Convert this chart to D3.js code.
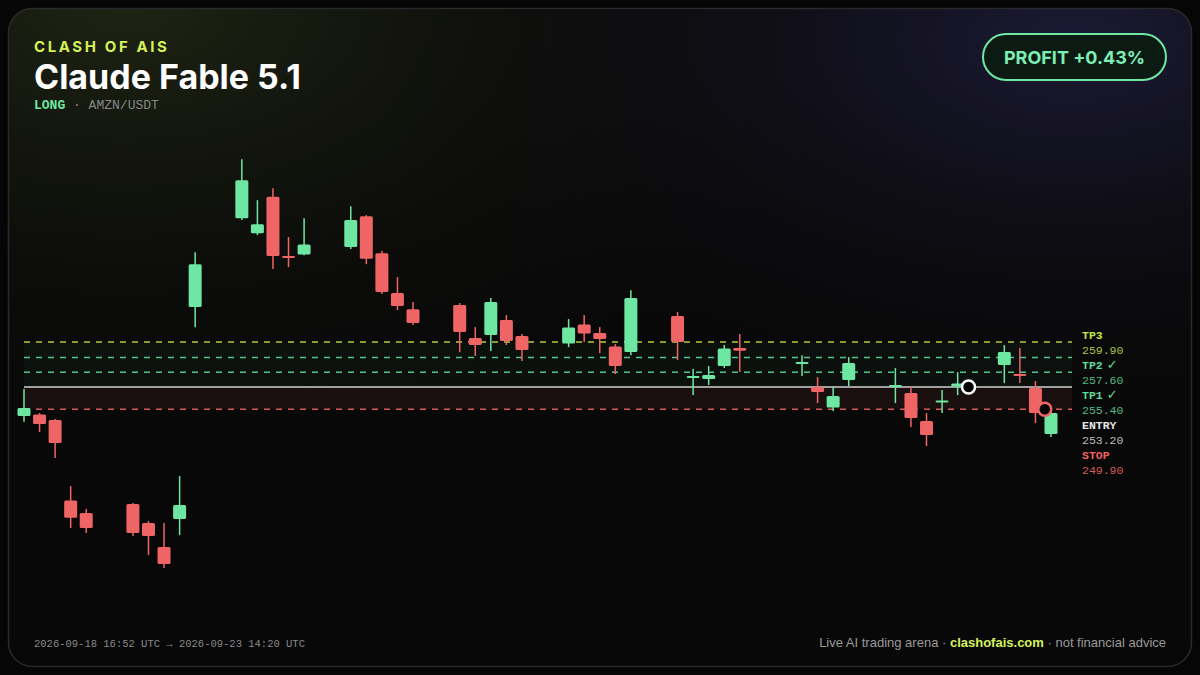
<!DOCTYPE html>
<html><head><meta charset="utf-8">
<script src="https://cdn.jsdelivr.net/npm/d3@7/dist/d3.min.js"></script>
<style>html,body{margin:0;padding:0;background:#050505;}svg{display:block}</style>
</head><body><svg id="c" width="1200" height="675"></svg>
<script>
// index, open, high, low, close
const candleIdx = [0,1,2,3,4,7,8,9,10,11,14,15,16,17,18,21,22,23,24,25,28,29,30,31,32,35,36,37,38,39,42,43,44,45,46,50,51,52,53,56,57,58,59,60,63,64,65,66];
const opens  = [248.88,249.11,248.29,236.30,234.44,235.78,232.95,229.38,233.55,265.11,278.36,276.13,281.54,272.71,272.93,274.05,278.66,273.15,267.20,264.81,265.41,260.50,260.94,263.18,260.79,259.68,262.51,261.24,259.23,258.41,263.77,254.76,254.39,256.33,259.01,256.77,253.20,250.15,254.24,253.42,252.31,248.14,251.12,253.27,256.48,255.14,253.05,246.20];
const highs  = [252.90,249.33,248.44,238.46,235.03,235.93,233.25,232.95,239.95,273.30,287.15,281.04,282.83,275.54,278.36,280.15,278.81,273.45,269.58,265.86,265.71,262.13,266.45,263.92,261.09,263.33,263.92,262.13,259.60,267.64,264.37,255.88,256.33,259.45,261.09,257.96,254.69,253.20,257.67,256.03,253.20,249.33,252.75,255.43,259.45,259.01,254.09,249.48];
const lows   = [248.03,246.50,242.63,232.20,231.46,231.01,228.19,226.25,231.16,262.13,278.07,275.83,270.77,271.07,272.85,273.75,271.51,267.05,264.67,262.43,258.41,257.82,258.56,259.45,257.07,259.16,259.90,258.26,255.14,257.96,257.22,252.01,253.50,256.03,255.43,254.84,250.82,249.63,253.35,250.82,247.24,244.41,249.33,252.01,253.80,253.80,247.84,245.76];
const closes = [250.07,247.69,244.86,233.74,232.20,231.46,231.01,226.84,235.63,271.51,284.02,277.47,272.71,272.41,274.42,278.07,272.33,267.35,265.26,262.73,261.39,259.45,265.86,260.05,258.71,262.06,261.17,260.35,256.33,266.45,259.90,254.84,254.99,258.93,258.63,256.92,252.46,251.86,256.77,253.50,248.58,246.05,251.19,253.72,258.41,255.06,249.33,249.33];
const levelNames = ["TP3","TP2","TP1","ENTRY","STOP"];
const levelHit = [false,true,true,false,false];
const levelValues = [259.90,257.60,255.40,253.20,249.90];
const levelColors = ["#c5e34a","#5fd99a","#5fd99a","#e6e6e6","#ef6161"];
const valueColors = ["#a9c445","#52b884","#52b884","#bdbdbd","#d95a5a"];
const entryMarker = {i:60.7, p:253.2};
const stopMarker = {i:65.6, p:249.9};

const svg = d3.select("#c");
const defs = svg.append("defs");
const g1 = defs.append("radialGradient").attr("id","gl").attr("cx","0.1").attr("cy","0").attr("r","0.7");
g1.append("stop").attr("offset","0").attr("stop-color","#1e2413");
g1.append("stop").attr("offset","1").attr("stop-color","#0a0a0a").attr("stop-opacity","0");
const g2 = defs.append("radialGradient").attr("id","gr").attr("cx","0.9").attr("cy","0.05").attr("r","0.6");
g2.append("stop").attr("offset","0").attr("stop-color","#1c1a35");
g2.append("stop").attr("offset","1").attr("stop-color","#0a0a0a").attr("stop-opacity","0");
svg.append("rect").attr("width",1200).attr("height",675).attr("fill","#060606");
svg.append("rect").attr("x",8).attr("y",8).attr("width",1184).attr("height",659).attr("rx",24).attr("fill","#080808");
svg.append("rect").attr("x",8).attr("y",8).attr("width",1184).attr("height",659).attr("rx",24).attr("fill","url(#gl)");
svg.append("rect").attr("x",8).attr("y",8).attr("width",1184).attr("height",659).attr("rx",24).attr("fill","url(#gr)");
svg.append("rect").attr("x",8.5).attr("y",8.5).attr("width",1183).attr("height",658).attr("rx",24).attr("fill","none").attr("stroke","#2a2a2c").attr("stroke-width",1.5);

const x = d3.scaleLinear().domain([0,66]).range([24,1051]);
const y = d3.scaleLinear().domain([220,290]).range([610,140]);
const x0 = 24, x1 = 1072;

svg.append("rect").attr("x",x0).attr("width",x1-x0).attr("y",y(levelValues[0])).attr("height",y(levelValues[3])-y(levelValues[0])).attr("fill","#5fd99a").attr("opacity",0.04);
svg.append("rect").attr("x",x0).attr("width",x1-x0).attr("y",y(levelValues[3])).attr("height",y(levelValues[4])-y(levelValues[3])).attr("fill","#ef6161").attr("opacity",0.08);

levelValues.forEach((v,k)=>{
  svg.append("line").attr("x1",x0).attr("x2",x1).attr("y1",y(v)).attr("y2",y(v))
    .attr("stroke",levelColors[k]).attr("stroke-width",1.5)
    .attr("stroke-dasharray",k===3?null:"6,6").attr("opacity",0.9);
  const ty = 335 + k*30;
  const t = svg.append("text").attr("x",1082).attr("y",ty+4).attr("font-family","Liberation Mono").attr("font-size",11.5).attr("font-weight","bold").attr("fill",levelColors[k]);
  t.append("tspan").text(levelNames[k]);
  if (levelHit[k]) t.append("tspan").attr("font-family","DejaVu Sans").attr("font-size",13).attr("font-weight","normal").text("  ✓");
  svg.append("text").attr("x",1082).attr("y",ty+19).attr("font-family","Liberation Mono").attr("font-size",11.5).attr("fill",valueColors[k]).text(v.toFixed(2));
});

const data = candleIdx.map((i,k)=>({i,o:opens[k],h:highs[k],l:lows[k],c:closes[k]}));
const cg = svg.append("g");
const bw = 13;
data.forEach(d=>{
  const up = d.c >= d.o;
  const col = up ? "#6ee7a2" : "#ef6464";
  cg.append("line").attr("x1",x(d.i)).attr("x2",x(d.i)).attr("y1",y(d.h)).attr("y2",y(d.l)).attr("stroke",col).attr("stroke-width",1.5);
  const top = y(Math.max(d.o,d.c)), bot = y(Math.min(d.o,d.c));
  cg.append("rect").attr("x",x(d.i)-bw/2).attr("width",bw).attr("y",top).attr("height",Math.max(2,bot-top)).attr("rx",1.5).attr("fill",col);
});

svg.append("circle").attr("cx",x(entryMarker.i)).attr("cy",y(entryMarker.p)).attr("r",6.5).attr("fill","#050505").attr("stroke","#ffffff").attr("stroke-width",2.5);
svg.append("circle").attr("cx",x(stopMarker.i)).attr("cy",y(stopMarker.p)).attr("r",6.5).attr("fill","#050505").attr("stroke","#ef6464").attr("stroke-width",2.5);

svg.append("text").attr("x",34).attr("y",52).attr("font-family","Inter").attr("font-size",15).attr("font-weight",700).attr("letter-spacing",2.6).attr("fill","#d4f25a").text("CLASH OF AIS");
svg.append("text").attr("x",34).attr("y",89).attr("font-family","Inter").attr("font-size",34).attr("font-weight",700).attr("fill","#ffffff").text("Claude Fable 5.1");
const sub = svg.append("text").attr("x",34).attr("y",109).attr("font-family","Liberation Mono").attr("font-size",13);
sub.append("tspan").attr("fill","#6ee7a2").attr("font-weight","bold").text("LONG");
sub.append("tspan").attr("fill","#888").text(" · AMZN/USDT");

svg.append("rect").attr("x",983).attr("y",34).attr("width",183).attr("height",46).attr("rx",23).attr("fill","#0c1a14").attr("stroke","#6ee7a2").attr("stroke-width",2);
svg.append("text").attr("x",1074.5).attr("y",64).attr("text-anchor","middle").attr("font-family","Inter").attr("font-size",18).attr("font-weight",700).attr("fill","#7cf0b4").text("PROFIT +0.43%");

svg.append("text").attr("x",34).attr("y",647).attr("font-family","Liberation Mono").attr("font-size",10.5).attr("fill","#8a8a8a").text("2026-09-18 16:52 UTC → 2026-09-23 14:20 UTC");
const ft = svg.append("text").attr("x",1166).attr("y",647).attr("text-anchor","end").attr("font-family","Liberation Sans").attr("font-size",13);
ft.append("tspan").attr("fill","#9a9a9a").text("Live AI trading arena · ");
ft.append("tspan").attr("fill","#d4f25a").attr("font-weight","bold").text("clashofais.com");
ft.append("tspan").attr("fill","#9a9a9a").text(" · not financial advice");
</script></body></html>
